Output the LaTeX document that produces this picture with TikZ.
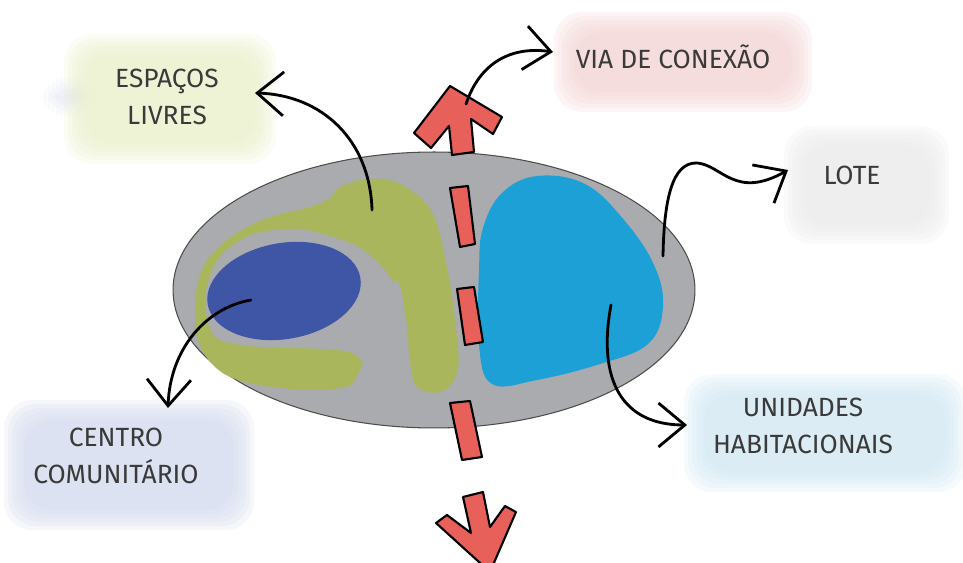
\documentclass[tikz,border=0pt]{standalone}
\usepackage{fontspec}
\newfontfamily\hand{Fira Sans}
\usetikzlibrary{arrows.meta,shapes.geometric}
\definecolor{ovalgray}{HTML}{A9ABAE}
\definecolor{olive}{HTML}{A9B65C}
\definecolor{darkblue}{HTML}{3F56A6}
\definecolor{cyanblue}{HTML}{1CA0D6}
\definecolor{roadred}{HTML}{E8605A}
\definecolor{labeltext}{HTML}{3A3A3A}
\definecolor{bgyellow}{HTML}{EDF2CC}
\definecolor{bgpink}{HTML}{F6D6D6}
\definecolor{bggray}{HTML}{EBEBEB}
\definecolor{bgblue}{HTML}{D2E9F5}
\definecolor{bglav}{HTML}{D6DBF0}
\begin{document}
\begin{tikzpicture}[x=0.02cm,y=-0.02cm,
  wash/.style={fill=#1, fill opacity=0.22, rounded corners=16pt},
  lbl/.style={font=\hand\fontsize{15}{21}\selectfont, text=labeltext, align=center, inner sep=0pt},
  conn/.style={line width=1.6pt, line cap=round,
    -{Straight Barb[length=15pt, width=25pt, line width=1.6pt]}},
  dashbox/.style={fill=roadred, draw=black, line width=1.2pt, line join=round}]
\clip (0,0) rectangle (963,563);
\fill[white] (0,0) rectangle (963,563);

% watercolour washes behind the labels
\foreach \d in {0,4,8,12,16,20} {
  \fill[wash=bglav, fill opacity=0.08] (40+\d,78+\d) rectangle (100-\d,116-\d);
  \fill[wash=bgyellow] (64+\d,34+\d) rectangle (276-\d,164-\d);
  \fill[wash=bgpink] (554+\d,12+\d) rectangle (812-\d,112-\d);
  \fill[wash=bggray] (784+\d,126+\d) rectangle (949-\d,244-\d);
  \fill[wash=bgblue] (684+\d,374+\d) rectangle (966-\d,492-\d);
  \fill[wash=bglav] (4+\d,400+\d) rectangle (254-\d,530-\d);
}

% site (lote)
\node[draw=black!70, line width=0.6pt, fill=ovalgray, ellipse, minimum width=10.44cm, minimum height=5.52cm, inner sep=0pt] (lote) at (434,290) {};

% open spaces (green C shape)
\fill[olive] plot[smooth cycle, tension=0.6] coordinates {
  (360,370) (340,388) (280,388) (228,376) (201,348) (195,310) (201,272)
  (222,244) (262,220) (310,207) (330,198) (340,187) (368,179) (400,184)
  (432,212) (447,268) (455,320) (458,368) (443,391) (418,388) (410,362)
  (406,320) (394,282)};
\fill[ovalgray] plot[smooth cycle, tension=0.55] coordinates {
  (412,410) (405,340) (393,283) (366,252) (336,238) (297,229) (251,235)
  (219,258) (206,292) (208,322) (220,340) (262,347) (338,350) (362,362) (376,410)};
\fill[ovalgray] (376,392) rectangle (410,412);

% community centre
\fill[darkblue, rotate around={10:(284,291)}] (284,291) ellipse [x radius=1.55cm, y radius=0.96cm];

% housing units
\fill[cyanblue] plot[smooth cycle, tension=0.65] coordinates {
  (483,228) (502,193) (537,176) (585,184) (624,220) (654,265) (663,307)
  (648,344) (600,364) (537,380) (492,384) (479,345) (479,270)};

% road: dashes and arrows
\draw[dashbox] (450,188) -- (468,186) -- (475,244) -- (460,247) -- cycle;
\draw[dashbox] (457,289) -- (474,287) -- (483,342) -- (465,345) -- cycle;
\draw[dashbox] (450,403) -- (470,401) -- (482,457) -- (462,460) -- cycle;
\draw[dashbox] (450,86) -- (502,117) -- (493,134) -- (471,119) -- (474,152)
  -- (452,155) -- (449,126) -- (431,148) -- (414,133) -- cycle;
\draw[dashbox] (463,497) -- (483,492) -- (490,527) -- (505,506) -- (516,512)
  -- (490,572) -- (436,523) -- (447,515) -- (471,533) -- cycle;

% labels
\node[lbl] (esp) at (167,97) {ESPAÇOS\\LIVRES};
\node[lbl] (via) at (673,57) {VIA DE CONEXÃO};
\node[lbl] (lt) at (852,175) {LOTE};
\node[lbl] (uni) at (803,426) {UNIDADES\\HABITACIONAIS};
\node[lbl] (cen) at (116,456) {CENTRO\\COMUNITÁRIO};

% connector ends
\coordinate (sEsp) at (372,210);
\coordinate (tEsp) at (255,93);
\coordinate (sVia) at (466,104);
\coordinate (tVia) at (553,52);
\coordinate (sLot) at (663,256);
\coordinate (tLot) at (788,170);
\coordinate (sUni) at (611,305);
\coordinate (tUni) at (687,425);
\coordinate (sCen) at (251,300);
\coordinate (tCen) at (168,408);

\draw[conn] (sEsp) .. controls (370,140) and (322,95) .. (tEsp);
\draw[conn] (sVia) .. controls (480,62) and (512,46) .. (tVia);
\draw[conn] (sLot) .. controls (664,200) and (672,162) .. (697,163)
  .. controls (722,165) and (735,200) .. (tLot);
\draw[conn] (sUni) .. controls (597,380) and (622,425) .. (tUni);
\draw[conn] (sCen) .. controls (205,308) and (170,350) .. (tCen);
\end{tikzpicture}
\end{document}
